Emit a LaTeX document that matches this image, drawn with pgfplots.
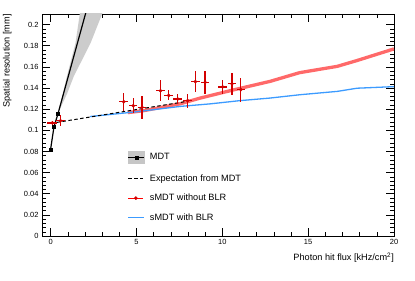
\documentclass[border=0pt]{standalone}
\usepackage{fontspec}
\setmainfont{Liberation Sans}
\usepackage{pgfplots}
\pgfplotsset{compat=1.18}
\definecolor{rootred}{RGB}{210,0,0}
\definecolor{bandred}{RGB}{255,105,105}
\definecolor{blueline}{RGB}{60,155,255}
\begin{document}
\begin{tikzpicture}
\begin{axis}[
  name=ax,
  scale only axis, width=352bp, height=222bp,
  xmin=-0.5, xmax=20, ymin=0, ymax=0.21,
  xtick={0,5,10,15,20}, minor x tick num=4,
  ytick={0,0.02,0.04,0.06,0.08,0.1,0.12,0.14,0.16,0.18,0.2}, minor y tick num=4,
  tick align=inside,
  major tick length=8bp, minor tick length=4bp,
  every tick/.style={black, line width=0.5bp},
  axis line style={line width=0.8bp},
  scaled y ticks=false,
  /pgf/number format/assume math mode=true,
  yticklabel style={/pgf/number format/fixed, /pgf/number format/precision=2, font=\fontsize{7.5}{9}\selectfont},
  xticklabel style={font=\fontsize{7.5}{9}\selectfont},
  xlabel={Photon hit flux [kHz/cm\textsuperscript{2}]},
  ylabel={Spatial resolution [mm]},
  xlabel style={font=\fontsize{9.2}{11}\selectfont, at={(axis description cs:1,-0.112)}, anchor=base east, inner sep=0pt},
  ylabel style={font=\fontsize{9.2}{11}\selectfont, at={(axis description cs:-0.092,1)}, anchor=base east, inner sep=0pt},
  legend style={draw=none, fill=none, at={(rel axis cs:0.243,0.383)}, anchor=north west, inner sep=0pt,
    font=\fontsize{9.2}{11}\selectfont, row sep=10.5bp, column sep=5bp,
    nodes={inner sep=0pt, text height=7bp, text depth=2bp}},
  legend cell align=left,
]
\addlegendimage{legend image code/.code={\fill[gray!45] (0bp,-6bp) rectangle (16bp,6bp); \draw[black, line width=1.2bp] (0bp,0bp) -- (16bp,0bp); \fill[black] (6.5bp,-1.6bp) rectangle (9.7bp,1.6bp);}}
\addlegendentry{MDT}
\addlegendimage{legend image code/.code={\draw[black, line width=1bp, dash pattern=on 3.5bp off 2.5bp] (0bp,0bp) -- (15bp,0bp);}}
\addlegendentry{Expectation from MDT}
\addlegendimage{legend image code/.code={\draw[red, line width=0.8bp] (0bp,0bp) -- (15bp,0bp); \fill[rootred] (7.5bp,0bp) circle (1.6bp);}}
\addlegendentry{sMDT without BLR}
\addlegendimage{legend image code/.code={\draw[blueline, line width=1.2bp] (0bp,0bp) -- (16bp,0bp);}}
\addlegendentry{sMDT with BLR}

% MDT uncertainty band
\addplot[fill=gray!40, draw=none, forget plot] coordinates {
 (0.43,0.1156) (0.95,0.151) (1.2,0.1668) (1.45,0.1826) (1.7,0.21) (1.85,0.225)
 (3.3,0.225) (3.0,0.21) (2.33,0.1826) (1.84,0.1668) (1.35,0.151) (0.97,0.135) (0.6,0.122)
} -- cycle;
% sMDT without BLR (thick band)
\addplot[bandred, line width=3.3bp, forget plot] coordinates {
 (4.5,0.1167) (5.4,0.1185) (7.56,0.1251) (8.72,0.1305) (10.6,0.138) (12.79,0.1463)
 (14.5,0.1545) (16.7,0.1605) (17.85,0.166) (20,0.177)
};
% sMDT with BLR
\addplot[blueline, line width=1.3bp, forget plot] coordinates {
 (2.3,0.113) (5,0.1175) (7.56,0.1226) (9.3,0.125) (11,0.128) (12.79,0.1305)
 (14.5,0.1336) (16.7,0.1368) (17.85,0.1398) (20,0.1413)
};
% Expectation from MDT
\addplot[black, line width=1bp, dash pattern=on 3.5bp off 2.5bp, forget plot] coordinates {
 (0,0.1065) (8,0.1275)
};
% MDT line
\addplot[black, line width=1.2bp, forget plot] coordinates {
 (0,0.082) (0.2,0.1035) (0.43,0.1156) (2.2,0.22)
};
\addplot[black, only marks, mark=square*, mark size=1.6bp, forget plot] coordinates {
 (0,0.082) (0.2,0.1035) (0.43,0.1156)
};
% sMDT without BLR data points
\addplot[rootred, only marks, mark=*, mark size=1.6bp, forget plot,
  error bars/.cd, x dir=both, x explicit, y dir=both, y explicit,
  error bar style={line width=1.3bp, rootred}, error mark=none]
 table[x=x, y=y, x error=ex, y error=ey] {
 x y ex ey
 0.1 0.107 0.28 0.002
 0.58 0.109 0.25 0.005
 4.26 0.127 0.25 0.0085
 4.81 0.1232 0.25 0.007
 5.33 0.1216 0.25 0.0107
 6.4 0.1374 0.25 0.010
 6.88 0.133 0.25 0.0047
 7.4 0.1296 0.25 0.005
 7.98 0.128 0.25 0.0066
 8.43 0.146 0.25 0.010
 9.0 0.1453 0.25 0.011
 10.02 0.141 0.25 0.0068
 10.56 0.144 0.25 0.0106
 11.08 0.1384 0.25 0.0114
 };
\end{axis}
\useasboundingbox (ax.south west) ++(-42bp,-45bp) rectangle ++(415bp,281bp);
\end{tikzpicture}
\end{document}
